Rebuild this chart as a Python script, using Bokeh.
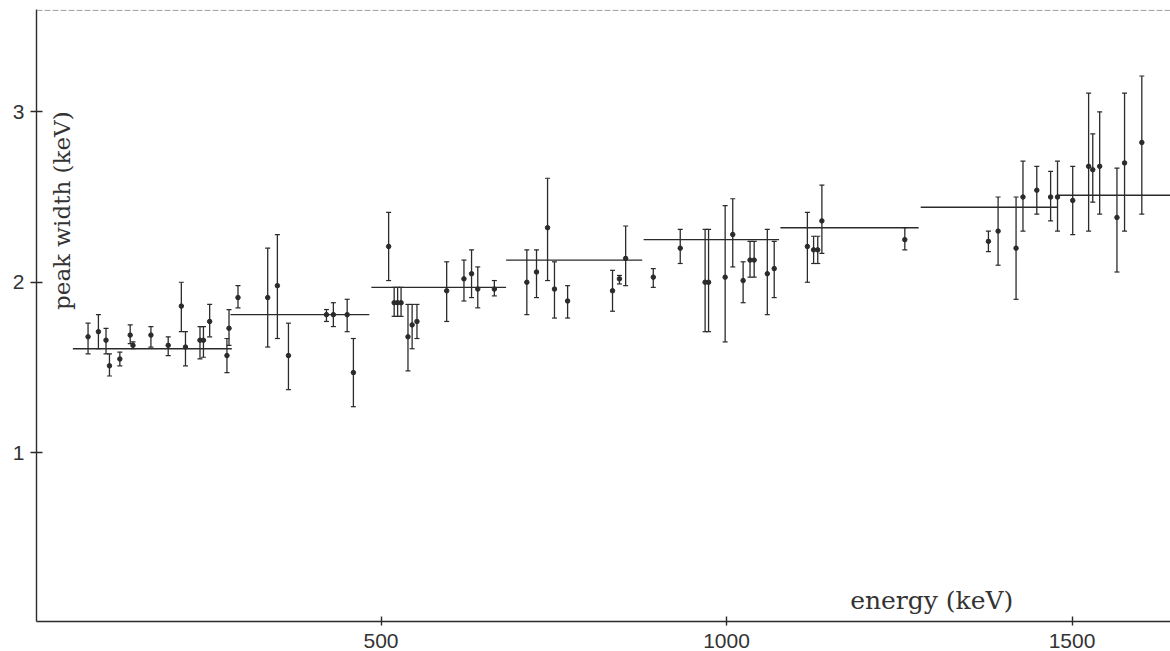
import math
from bokeh.plotting import figure
from bokeh.models import ColumnDataSource, Whisker, TeeHead, Label, Span, FixedTicker, Range1d
from bokeh.embed import file_html
from bokeh.resources import INLINE

# peak energies (keV)
energy = [76, 91, 102, 107, 122, 137, 141, 167, 192, 211, 217, 238, 243, 252, 277, 280, 293,
          336, 350, 366, 421, 431, 451, 460,
          511, 519, 524, 529, 539, 545, 552, 595, 620, 631, 640, 664,
          711, 725, 741, 751, 770, 835, 845, 854,
          894, 933, 969, 974, 998, 1009, 1024, 1034, 1040, 1059, 1069,
          1117, 1126, 1132, 1138, 1258,
          1379, 1393, 1419, 1429, 1449, 1469, 1479,
          1501, 1524, 1530, 1540, 1565, 1576, 1601]
# peak widths (keV)
peak_width = [1.68, 1.71, 1.66, 1.51, 1.55, 1.69, 1.63, 1.69, 1.63, 1.86, 1.62, 1.66, 1.66, 1.77, 1.57, 1.73, 1.91,
              1.91, 1.98, 1.57, 1.81, 1.81, 1.81, 1.47,
              2.21, 1.88, 1.88, 1.88, 1.68, 1.75, 1.77, 1.95, 2.02, 2.05, 1.96, 1.96,
              2.00, 2.06, 2.32, 1.96, 1.89, 1.95, 2.02, 2.14,
              2.03, 2.20, 2.00, 2.00, 2.03, 2.28, 2.01, 2.13, 2.13, 2.05, 2.08,
              2.21, 2.19, 2.19, 2.36, 2.25,
              2.24, 2.30, 2.20, 2.50, 2.54, 2.50, 2.50,
              2.48, 2.68, 2.66, 2.68, 2.38, 2.70, 2.82]
width_low = [1.58, 1.61, 1.58, 1.45, 1.51, 1.64, 1.61, 1.62, 1.57, 1.71, 1.51, 1.55, 1.56, 1.68, 1.47, 1.63, 1.85,
             1.62, 1.67, 1.37, 1.77, 1.74, 1.71, 1.27,
             2.01, 1.80, 1.80, 1.80, 1.48, 1.61, 1.67, 1.77, 1.89, 1.91, 1.85, 1.92,
             1.81, 1.91, 2.01, 1.79, 1.79, 1.83, 1.99, 1.98,
             1.97, 2.11, 1.71, 1.71, 1.65, 2.09, 1.88, 2.03, 2.03, 1.81, 1.91,
             2.00, 2.11, 2.11, 2.17, 2.19,
             2.18, 2.10, 1.90, 2.30, 2.40, 2.36, 2.30,
             2.28, 2.30, 2.47, 2.40, 2.06, 2.30, 2.40]
width_high = [1.76, 1.81, 1.73, 1.58, 1.59, 1.75, 1.65, 1.74, 1.68, 2.00, 1.71, 1.74, 1.74, 1.87, 1.67, 1.84, 1.98,
              2.20, 2.28, 1.76, 1.84, 1.88, 1.90, 1.67,
              2.41, 1.97, 1.97, 1.97, 1.87, 1.87, 1.87, 2.12, 2.13, 2.19, 2.09, 2.01,
              2.19, 2.19, 2.61, 2.12, 1.98, 2.07, 2.04, 2.33,
              2.08, 2.31, 2.31, 2.31, 2.45, 2.49, 2.12, 2.24, 2.24, 2.31, 2.24,
              2.41, 2.27, 2.27, 2.57, 2.32,
              2.30, 2.50, 2.50, 2.71, 2.68, 2.65, 2.71,
              2.68, 3.11, 2.87, 3.00, 2.67, 3.11, 3.21]

# mean widths over energy intervals
step_start = [54, 282, 486, 681, 880, 1078, 1281, 1479]
step_end = [284, 483, 681, 878, 1076, 1278, 1479, 1700]
step_level = [1.61, 1.81, 1.97, 2.13, 2.25, 2.32, 2.44, 2.51]

x_ticks = [500, 1000, 1500]
y_ticks = [1, 2, 3]

INK = "#2b2b2b"

p = figure(width=1170, height=651, output_backend="svg", toolbar_location=None,
           x_range=Range1d(1.4, 1642.5), y_range=Range1d(0.01, 3.6),
           min_border_left=36, min_border_top=9, min_border_right=0, min_border_bottom=30)
p.outline_line_color = None
p.xgrid.visible = False
p.ygrid.visible = False
p.background_fill_color = "white"

for ax in (p.xaxis[0], p.yaxis[0]):
    ax.axis_line_color = INK
    ax.axis_line_width = 1.4
    ax.major_tick_line_color = INK
    ax.major_tick_line_width = 1.4
    ax.minor_tick_line_color = None
    ax.major_label_text_color = "#333333"
    ax.major_label_text_font = "Liberation Sans"

p.xaxis.ticker = FixedTicker(ticks=x_ticks)
p.yaxis.ticker = FixedTicker(ticks=y_ticks)
p.xaxis.major_tick_in = 5
p.xaxis.major_tick_out = 4
p.yaxis.major_tick_in = 6
p.yaxis.major_tick_out = 6
p.xaxis.major_label_text_font_size = "21px"
p.yaxis.major_label_text_font_size = "21px"
p.xaxis.major_label_standoff = 8
p.yaxis.major_label_standoff = 6

src = ColumnDataSource(dict(e=energy, w=peak_width, lo=width_low, hi=width_high))
whisk = Whisker(source=src, base="e", lower="lo", upper="hi", dimension="height",
                line_color=INK, line_width=1.3,
                upper_head=TeeHead(size=5, line_color=INK, line_width=1.2),
                lower_head=TeeHead(size=5, line_color=INK, line_width=1.2))
p.add_layout(whisk)
p.scatter("e", "w", source=src, size=4.5, color=INK)

p.segment(x0=step_start, y0=step_level, x1=step_end, y1=step_level,
          line_color=INK, line_width=1.4)

p.add_layout(Span(location=3.595, dimension="width", line_color="#9a9a9a",
                  line_width=1, line_dash="6 2"))

p.add_layout(Label(x=1297, y=0.135, text="energy (keV)", text_align="center",
                   text_baseline="middle", text_font="DejaVu Serif",
                   text_font_size="25px", text_color="#333333"))
p.add_layout(Label(x=39, y=2.42, text="peak width (keV)", angle=math.pi / 2,
                   text_align="center", text_baseline="middle", text_font="DejaVu Serif",
                   text_font_size="23px", text_color="#333333"))

open("out.html", "w").write(file_html(p, INLINE))
